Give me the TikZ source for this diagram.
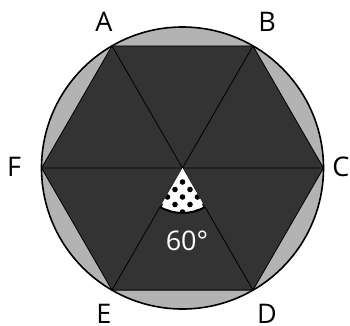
\documentclass[tikz,border=0pt]{standalone}
\usepackage{fontspec}
\setmainfont{Open Sans}
\usetikzlibrary{calc}
\definecolor{hexdark}{HTML}{333333}
\definecolor{ringgray}{HTML}{B3B3B3}
\begin{document}
\begin{tikzpicture}[x=1pt,y=-1pt,
  lbl/.style={font=\fontsize{27}{29}\selectfont, inner sep=0pt},
  spoke/.style={draw=black, line width=0.8pt},
  dot/.style={fill=black}]
\useasboundingbox (0,0) rectangle (350,325);
\coordinate (O) at (182.5,168);
\coordinate (A) at (112,45.9);
\coordinate (B) at (253,45.9);
\coordinate (C) at (323.5,168);
\coordinate (D) at (253,290.1);
\coordinate (E) at (112,290.1);
\coordinate (F) at (41.5,168);
% ring
\fill[ringgray] (O) circle[radius=141];
% hexagon
\filldraw[fill=hexdark, spoke] (A) -- (B) -- (C) -- (D) -- (E) -- (F) -- cycle;
\draw[spoke] (A) -- (D) (B) -- (E) (C) -- (F);
% circle outline
\draw[black, line width=1.6pt] (O) circle[radius=141];
% dotted sector
\fill[white] (O) -- ++(60:45) arc[start angle=60, end angle=120, radius=45] -- cycle;
\begin{scope}
  \clip (O) -- ++(60:45) arc[start angle=60, end angle=120, radius=45] -- cycle;
  \foreach \yy/\off in {182/0, 189.5/1, 197/0, 204.5/1, 212/0} {
    \foreach \k in {-3,...,3} {
      \fill[dot] ({182.5+15*\k+7.5*\off}, \yy) circle[radius=2.8];
    }
  }
\end{scope}
\draw[black, line width=2pt] ($(O)+(60:45)$) arc[start angle=60, end angle=120, radius=45];
% labels
\node[lbl] (lA) at (104,22) {A};
\node[lbl] (lB) at (267,22) {B};
\node[lbl] (lC) at (341,167) {C};
\node[lbl] (lD) at (267,314) {D};
\node[lbl] (lE) at (104,314) {E};
\node[lbl] (lF) at (14,167) {F};
\node[lbl, text=white] (ang) at (187,241) {60°};
\end{tikzpicture}
\end{document}
